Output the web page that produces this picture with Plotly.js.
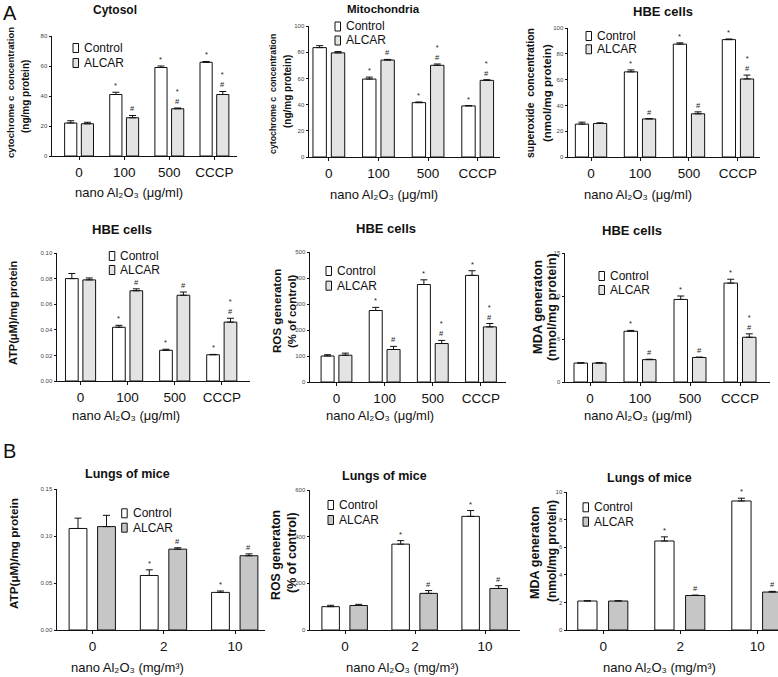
<!DOCTYPE html>
<html>
<head>
<meta charset="utf-8">
<script src="https://cdn.plot.ly/plotly-3.0.1.min.js"></script>
<style>html,body{margin:0;padding:0;background:#fff}</style>
</head>
<body>
<div id="chart" style="width:778px;height:677px"></div>
<script>
const groupsA = ['0', '100', '500', 'CCCP'];
const groupsB = ['0', '2', '10'];

// A, row 1: cytochrome c in cytosol / mitochondria, superoxide
const cytoCtrl = [22, 41, 59, 62.5];
const cytoCtrlErr = [1.5, 1.5, 1, 0.5];
const cytoAlcar = [21.5, 25.5, 31.5, 41];
const cytoAlcarErr = [1, 1.5, 0.5, 2];

const mitoCtrl = [83.5, 59.5, 41.5, 39];
const mitoCtrlErr = [1.5, 1.5, 0.5, 0.3];
const mitoAlcar = [79.5, 74, 70, 58.5];
const mitoAlcarErr = [1, 0.5, 1, 0.5];

const superCtrl = [25.5, 66, 87.5, 91];
const superCtrlErr = [1.5, 1.5, 1, 0.5];
const superAlcar = [26, 29.5, 33.5, 60.5];
const superAlcarErr = [0.5, 0.3, 1.5, 3];

// A, row 2: ATP, ROS, MDA in HBE cells
const atpCtrl = [0.080, 0.042, 0.024, 0.0205];
const atpCtrlErr = [0.004, 0.0015, 0.0008, 0.0003];
const atpAlcar = [0.079, 0.0705, 0.067, 0.046];
const atpAlcarErr = [0.0015, 0.0015, 0.0025, 0.003];

const rosCtrl = [100, 275, 375, 410];
const rosCtrlErr = [5, 12, 18, 18];
const rosAlcar = [103, 125, 148, 212];
const rosAlcarErr = [8, 12, 12, 13];

const mdaCtrl = [2.2, 5.9, 9.6, 11.5];
const mdaCtrlErr = [0.05, 0.1, 0.4, 0.45];
const mdaAlcar = [2.2, 2.6, 2.85, 5.2];
const mdaAlcarErr = [0.05, 0.05, 0.05, 0.4];

// B: lungs of mice
const lungAtpCtrl = [0.108, 0.058, 0.040];
const lungAtpCtrlErr = [0.011, 0.006, 0.0015];
const lungAtpAlcar = [0.110, 0.086, 0.079];
const lungAtpAlcarErr = [0.012, 0.0015, 0.002];

const lungRosCtrl = [100, 368, 487];
const lungRosCtrlErr = [6, 15, 25];
const lungRosAlcar = [105, 157, 178];
const lungRosAlcarErr = [5, 12, 12];

const lungMdaCtrl = [2.1, 6.45, 9.35];
const lungMdaCtrlErr = [0.02, 0.3, 0.2];
const lungMdaAlcar = [2.1, 2.5, 2.75];
const lungMdaAlcarErr = [0.02, 0.03, 0.05];

// significance marks (* vs untreated, # vs control of same dose)
const sigCtrlA = ['', '*', '*', '*'];
const sigAlcarA1 = ['', '#', '*#', '*#'];
const sigAlcarA2 = ['', '#', '#', '*#'];
const sigCtrlB = ['', '*', '*'];
const sigAlcarB = ['', '#', '#'];

const W = 778, H = 677;
const FONT = 'Arial, "Liberation Sans", Helvetica, sans-serif';
const px = v => v / W;
const py = v => 1 - v / H;
const umlTitle = 'nano Al₂O₃ (μg/ml)';
const mgTitle = 'nano Al₂O₃ (mg/m³)';

const panels = [
  {groups: groupsA, ctrl: cytoCtrl, ctrlErr: cytoCtrlErr, alcar: cytoAlcar, alcarErr: cytoAlcarErr,
   sigC: sigCtrlA, sigA: sigAlcarA1, box: [52, 237, 36, 156], xr: [-0.6, 3.5], yr: [0, 80], dtick: 20, fmt: '',
   title: ['Cytosol', 115, 10, 12], ytitle: [['cytochrome c  concentration', 10, 93, 9.6], ['(ng/mg protein)', 25, 97, 10]],
   xtitle: [umlTitle, 129, 192], legend: [83, 48, 63]},
  {groups: groupsA, ctrl: mitoCtrl, ctrlErr: mitoCtrlErr, alcar: mitoAlcar, alcarErr: mitoAlcarErr,
   sigC: sigCtrlA, sigA: sigAlcarA1, box: [309, 500, 26, 157], xr: [-0.4, 3.45], yr: [0, 100], dtick: 20, fmt: '',
   title: ['Mitochondria', 383, 9.5, 11.5], ytitle: [['cytochrome c  concentration', 273, 94, 8.8], ['(ng/mg protein)', 288, 92, 10]],
   xtitle: [umlTitle, 384, 194], legend: [345, 26.5, 40.5]},
  {groups: groupsA, ctrl: superCtrl, ctrlErr: superCtrlErr, alcar: superAlcar, alcarErr: superAlcarErr,
   sigC: sigCtrlA, sigA: sigAlcarA2, box: [568, 760, 28, 157], xr: [-0.47, 3.45], yr: [0, 100], dtick: 20, fmt: '',
   title: ['HBE cells', 663, 11.3, 13], ytitle: [['superoxide  concentration', 530, 93, 10.4], ['(nmol/mg protein)', 547, 93, 11.5]],
   xtitle: [umlTitle, 638, 194], legend: [596, 36, 49.3]},
  {groups: groupsA, ctrl: atpCtrl, ctrlErr: atpCtrlErr, alcar: atpAlcar, alcarErr: atpAlcarErr,
   sigC: sigCtrlA, sigA: sigAlcarA2, box: [57, 250, 253, 381], xr: [-0.5, 3.6], yr: [0, 0.10], dtick: 0.02, fmt: '.2f',
   title: ['HBE cells', 122, 229.7, 13], ytitle: [['ATP(μM)/mg protein', 13, 313, 11]],
   xtitle: [umlTitle, 126, 415], legend: [119.3, 256, 270]},
  {groups: groupsA, ctrl: rosCtrl, ctrlErr: rosCtrlErr, alcar: rosAlcar, alcarErr: rosAlcarErr,
   sigC: sigCtrlA, sigA: sigAlcarA1, box: [310, 506, 252, 382], xr: [-0.55, 3.52], yr: [0, 500], dtick: 100, fmt: '',
   title: ['HBE cells', 386, 228, 13], ytitle: [['ROS generaton', 277, 311, 11.6], ['(% of control)', 292, 311, 11.4]],
   xtitle: [umlTitle, 380, 415], legend: [336, 271, 285.7]},
  {groups: groupsA, ctrl: mdaCtrl, ctrlErr: mdaCtrlErr, alcar: mdaAlcar, alcarErr: mdaAlcarErr,
   sigC: sigCtrlA, sigA: sigAlcarA2, box: [565, 770, 253, 382], xr: [-0.5, 3.6], yr: [0, 15], dtick: 5, fmt: '',
   title: ['HBE cells', 632, 230, 13], ytitle: [['MDA generaton', 537, 307, 12.8], ['(nmol/mg protein)', 552, 307, 12.7]],
   xtitle: [umlTitle, 638, 415], legend: [609, 276, 290]},
  {groups: groupsB, ctrl: lungAtpCtrl, ctrlErr: lungAtpCtrlErr, alcar: lungAtpAlcar, alcarErr: lungAtpAlcarErr,
   sigC: sigCtrlB, sigA: sigAlcarB, box: [57, 265, 489, 630], xr: [-0.5, 2.42], yr: [0, 0.15], dtick: 0.05, fmt: '.2f',
   title: ['Lungs of mice', 127, 474, 12.5], ytitle: [['ATP(μM)/mg protein', 13, 554, 11.7]],
   xtitle: [mgTitle, 127, 667], legend: [131.7, 513.3, 527.7]},
  {groups: groupsB, ctrl: lungRosCtrl, ctrlErr: lungRosCtrlErr, alcar: lungRosAlcar, alcarErr: lungRosAlcarErr,
   sigC: sigCtrlB, sigA: sigAlcarB, box: [310, 520, 490, 630], xr: [-0.5, 2.5], yr: [0, 600], dtick: 200, fmt: '',
   title: ['Lungs of mice', 384, 476, 12.5], ytitle: [['ROS generaton', 276, 555, 12.4], ['(% of control)', 292, 553, 12.5]],
   xtitle: [mgTitle, 403, 667], legend: [338, 505, 520]},
  {groups: groupsB, ctrl: lungMdaCtrl, ctrlErr: lungMdaCtrlErr, alcar: lungMdaAlcar, alcarErr: lungMdaAlcarErr,
   sigC: sigCtrlB, sigA: sigAlcarB, box: [567, 778, 492, 630], xr: [-0.47, 2.27], yr: [0, 10], dtick: 2, fmt: '',
   title: ['Lungs of mice', 649, 478, 12.5], ytitle: [['MDA generaton', 535, 553, 12.6], ['(nmol/mg protein)', 552, 551, 12]],
   xtitle: [mgTitle, 659, 667], legend: [593, 507.3, 521.7]}
];

const traces = [];
const annotations = [];
const shapes = [];
const layout = {
  width: W, height: H,
  margin: {l: 0, r: 0, t: 0, b: 0},
  paper_bgcolor: '#fff', plot_bgcolor: '#fff',
  showlegend: false, barmode: 'overlay',
  font: {family: FONT, color: '#111'}
};

function text(x, y, s, size, bold, extra) {
  annotations.push(Object.assign({
    xref: 'paper', yref: 'paper', x: px(x), y: py(y), showarrow: false,
    xanchor: 'center', yanchor: 'middle',
    text: bold ? '<b>' + s + '</b>' : s,
    font: {family: FONT, size: size, color: '#111'}
  }, extra || {}));
}

panels.forEach((p, i) => {
  const n = i === 0 ? '' : String(i + 1);
  const rowB = p.groups.length === 3;
  const w = rowB ? 0.25 : 0.27;
  const offC = rowB ? -0.33 : -0.32;
  const offA = rowB ? 0.07 : 0.05;
  const alcarFill = rowB ? '#c6c6c6' : '#e3e3e3';
  const [l, r, top, bot] = p.box;

  const bar = (name, y, err, off, fill) => ({
    type: 'bar', name: name, x: p.groups, y: y,
    xaxis: 'x' + n, yaxis: 'y' + n,
    width: w, offset: off,
    marker: {color: fill, line: {color: '#111', width: 1}},
    error_y: {type: 'data', symmetric: false, array: err, arrayminus: err.map(() => 0),
              color: '#111', thickness: 1, width: 3.5},
    hoverinfo: 'x+y'
  });
  traces.push(bar('Control', p.ctrl, p.ctrlErr, offC, '#ffffff'));
  traces.push(bar('ALCAR', p.alcar, p.alcarErr, offA, alcarFill));

  layout['xaxis' + n] = {
    domain: [px(l), px(r)], anchor: 'y' + n, type: 'category', range: p.xr,
    showline: true, linecolor: '#111', linewidth: 1,
    ticks: 'outside', ticklen: 3, tickcolor: '#111', ticklabelstandoff: 1,
    tickfont: {family: FONT, size: 13.5, color: '#111'},
    showgrid: false, zeroline: false, fixedrange: true
  };
  layout['yaxis' + n] = {
    domain: [py(bot), py(top)], anchor: 'x' + n, range: p.yr, dtick: p.dtick, tick0: 0,
    tickformat: p.fmt,
    showline: true, linecolor: '#111', linewidth: 1,
    ticks: 'outside', ticklen: 2.5, tickcolor: '#111',
    tickfont: {family: FONT, size: 6, color: '#444'},
    showgrid: false, zeroline: false, fixedrange: true
  };

  // significance marks above the error bars
  const cC = offC + w / 2, cA = offA + w / 2;
  p.groups.forEach((g, k) => {
    [[p.sigC[k], cC, p.ctrl[k] + p.ctrlErr[k]], [p.sigA[k], cA, p.alcar[k] + p.alcarErr[k]]]
      .forEach(([s, dx, yv]) => {
        if (!s) return;
        annotations.push({
          xref: 'x' + n, yref: 'y' + n, x: k + dx, y: yv, yshift: 1,
          showarrow: false, xanchor: 'center', yanchor: 'bottom', borderpad: 0,
          text: s.split('').join('<br>'),
          font: {family: FONT, size: 7.5, color: '#222'}
        });
      });
  });

  // titles
  text(p.title[1], p.title[2], p.title[0], p.title[3], true);
  p.ytitle.forEach(([s, x, y, size]) => text(x, y, s, size, true, {textangle: -90}));
  text(p.xtitle[1], p.xtitle[2], p.xtitle[0], 13, false);

  // legend: small outlined box + label
  const [lx, y1, y2] = p.legend;
  [['Control', y1, '#ffffff'], ['ALCAR', y2, alcarFill]].forEach(([s, y, fill]) => {
    shapes.push({type: 'rect', xref: 'paper', yref: 'paper',
      x0: px(lx - 10), x1: px(lx - 4.5), y0: py(y + 4.5), y1: py(y - 4.5),
      fillcolor: fill, line: {color: '#111', width: 1}});
    text(lx, y, s, 12, false, {xanchor: 'left', borderpad: 0});
  });
});

text(9.5, 13.5, 'A', 20, false);
text(9.5, 450.5, 'B', 20, false);

layout.annotations = annotations;
layout.shapes = shapes;

Plotly.newPlot('chart', traces, layout, {displayModeBar: false, staticPlot: true});
</script>
</body>
</html>
